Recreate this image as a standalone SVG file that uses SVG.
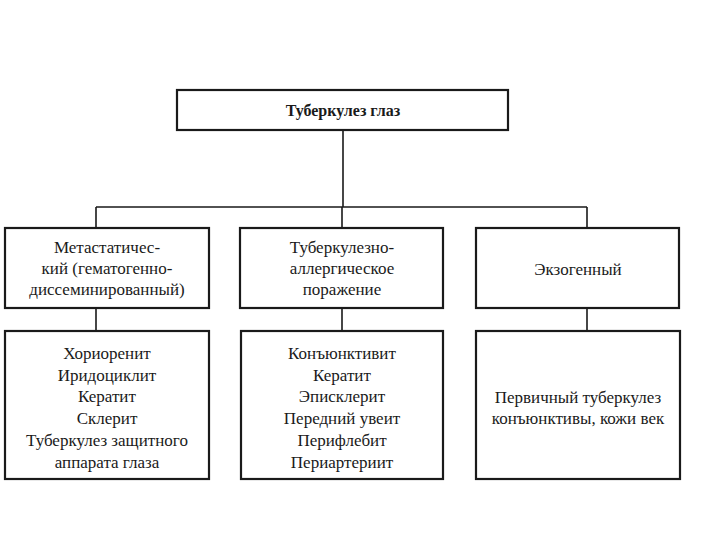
<svg xmlns="http://www.w3.org/2000/svg" width="720" height="540" viewBox="0 0 720 540" font-family="'Liberation Serif', 'Times New Roman', Times, 'DejaVu Serif', serif">
<style>
.box{fill:#fff;stroke:#1a1a1a;stroke-width:2.2}
.ln{stroke:#1a1a1a;stroke-width:1.6;fill:none}
text{font-family:'Liberation Serif','Times New Roman',Times,serif;font-size:17px;fill:#1a1a1a;text-anchor:middle;dominant-baseline:central}
.b{font-weight:bold;font-size:16px}
</style>
<rect width="720" height="540" fill="#fff"/>
<g id="connectors">
<path class="ln" d="M343 130 V207 M96 207 H587 M96 207 V228 M342 207 V228 M587 207 V228 M96 308 V331 M342 308 V331 M587 308 V331"/>
</g>
<g id="root">
<rect class="box" x="177" y="90" width="331" height="40"/>
<text class="b" x="343" y="110">Туберкулез глаз</text>
</g>
<g id="metastatic">
<rect class="box" x="5" y="228" width="204" height="80"/>
<text x="107" y="247">Метастатичес-</text>
<text x="107" y="268">кий (гематогенно-</text>
<text x="107" y="289">диссеминированный)</text>
</g>
<g id="allergic">
<rect class="box" x="240" y="228" width="203" height="80"/>
<text x="342" y="247">Туберкулезно-</text>
<text x="342" y="268">аллергическое</text>
<text x="342" y="289">поражение</text>
</g>
<g id="exogenous">
<rect class="box" x="476" y="228" width="203" height="80"/>
<text x="578" y="269">Экзогенный</text>
</g>
<g id="metastatic-list">
<rect class="box" x="5" y="331" width="204" height="148"/>
<text x="107" y="353">Хориоренит</text>
<text x="107" y="375">Иридоциклит</text>
<text x="107" y="396">Кератит</text>
<text x="107" y="418">Склерит</text>
<text x="107" y="440">Туберкулез защитного</text>
<text x="107" y="462">аппарата глаза</text>
</g>
<g id="allergic-list">
<rect class="box" x="241" y="331" width="202" height="148"/>
<text x="342" y="353">Конъюнктивит</text>
<text x="342" y="375">Кератит</text>
<text x="342" y="396">Эписклерит</text>
<text x="342" y="418">Передний увеит</text>
<text x="342" y="440">Перифлебит</text>
<text x="342" y="462">Периартериит</text>
</g>
<g id="exogenous-list">
<rect class="box" x="476" y="331" width="204" height="148"/>
<text x="578" y="397">Первичный туберкулез</text>
<text x="578" y="418">конъюнктивы, кожи век</text>
</g>
</svg>
